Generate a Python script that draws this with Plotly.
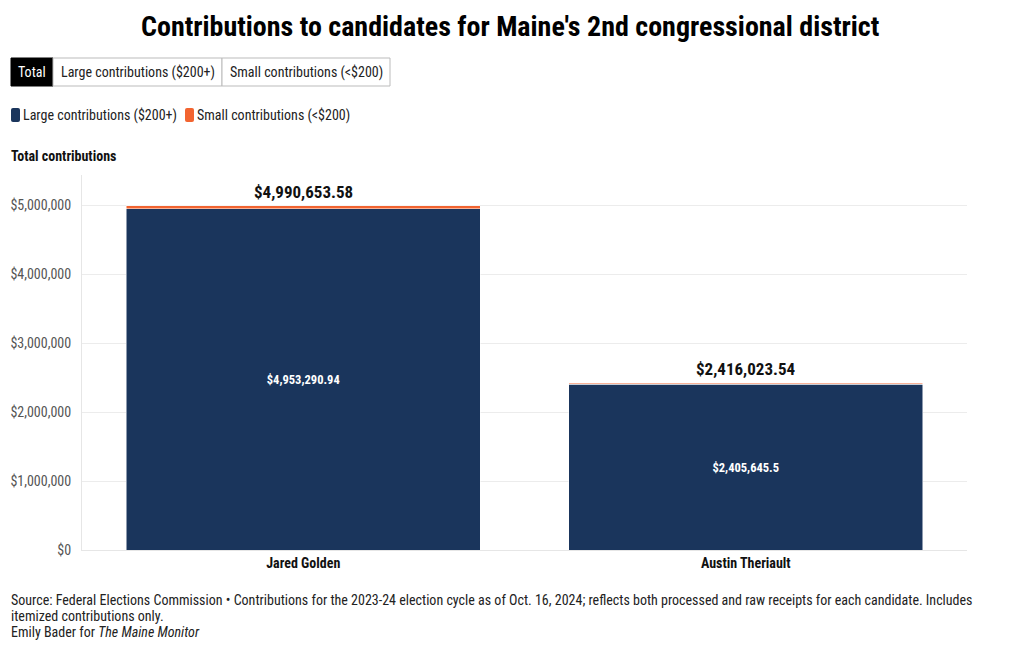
import plotly.graph_objects as go

candidates = ["Jared Golden", "Austin Theriault"]
large_contrib = [4953290.94, 2405645.5]
small_contrib = [37362.64, 10378.04]
series_names = ["Large contributions ($200+)", "Small contributions (<$200)"]
tab_labels = ["Total", "Large contributions ($200+)", "Small contributions (<$200)"]
y_ticks = [0, 1000000, 2000000, 3000000, 4000000, 5000000]

totals = [a + b for a, b in zip(large_contrib, small_contrib)]

NAVY = "#1a355c"
ORANGE = "#f26430"
FONT = "Roboto Condensed, Liberation Sans Narrow, Roboto, sans-serif"


def money(v):
    s = f"{v:,.2f}"
    if "." in s:
        s = s.rstrip("0").rstrip(".")
    return "$" + s


# page places the figure at (8, 8) because of body margin; work in window pixels
OFF = 8
W, H = 1020, 650
plot_left, plot_right, plot_top, plot_bottom = 82, 967, 175, 550
ml = plot_left - OFF
mr = W - (plot_right - OFF)
mt = plot_top - OFF
mb = H - (plot_bottom - OFF)
pw, ph = W - ml - mr, H - mt - mb


def px(xw):
    return (xw - OFF - ml) / pw


def py(yw):
    return (H - mb - (yw - OFF)) / ph


fig = go.Figure()
fig.add_trace(go.Bar(
    x=candidates, y=large_contrib, name=series_names[0],
    marker=dict(color=NAVY, line=dict(color="white", width=0.5)),
    text=[money(v) for v in large_contrib], textposition="inside",
    insidetextanchor="middle",
    textfont=dict(color="white", size=12.5, family=FONT, weight="bold"),
    hovertemplate="%{x}: %{y:$,.2f}<extra>" + series_names[0] + "</extra>",
    showlegend=False,
))
fig.add_trace(go.Bar(
    x=candidates, y=small_contrib, name=series_names[1],
    marker=dict(color=ORANGE, line=dict(color="white", width=0.5)),
    hovertemplate="%{x}: %{y:$,.2f}<extra>" + series_names[1] + "</extra>",
    showlegend=False,
))

for c, t in zip(candidates, totals):
    fig.add_annotation(x=c, y=t, xref="x", yref="y", text=f"<b>{money(t)}</b>",
                       showarrow=False, yanchor="bottom", yshift=2,
                       font=dict(size=17, color="#111", family=FONT))

shapes = []
annots = []

tab_edges = [11, 53, 222, 390]
for i, lab in enumerate(tab_labels):
    x0, x1 = tab_edges[i], tab_edges[i + 1]
    active = i == 0
    shapes.append(dict(type="rect", xref="paper", yref="paper",
                       x0=px(x0), x1=px(x1), y0=py(86), y1=py(58),
                       fillcolor="black" if active else "white",
                       line=dict(color="black" if active else "#bbb", width=1)))
    annots.append(dict(xref="paper", yref="paper", x=px((x0 + x1) / 2), y=py(72),
                       text=lab, showarrow=False, xanchor="center", yanchor="middle",
                       font=dict(size=14, color="white" if active else "#222", family=FONT)))

# custom legend
legend_x = [11, 185]
legend_colors = [NAVY, ORANGE]
for lx, name, col in zip(legend_x, series_names, legend_colors):
    x0, x1, y0, y1 = px(lx), px(lx + 9), py(122), py(108)
    r = 2
    rx = r / pw
    ry = r / ph
    path = (f"M {x0+rx},{y0} L {x1-rx},{y0} Q {x1},{y0} {x1},{y0+ry} "
            f"L {x1},{y1-ry} Q {x1},{y1} {x1-rx},{y1} L {x0+rx},{y1} "
            f"Q {x0},{y1} {x0},{y1-ry} L {x0},{y0+ry} Q {x0},{y0} {x0+rx},{y0} Z")
    shapes.append(dict(type="path", xref="paper", yref="paper", path=path,
                       fillcolor=col, line=dict(width=0)))
    annots.append(dict(xref="paper", yref="paper", x=px(lx + 10), y=py(115),
                       text=name, showarrow=False, xanchor="left", yanchor="middle",
                       font=dict(size=14, color="#222", family=FONT)))

annots.append(dict(xref="paper", yref="paper", x=px(W / 2), y=py(27),
                   text="<b>Contributions to candidates for Maine's 2nd congressional district</b>",
                   showarrow=False, xanchor="center", yanchor="middle",
                   font=dict(size=28, color="black", family=FONT)))
annots.append(dict(xref="paper", yref="paper", x=px(9), y=py(156),
                   text="<b>Total contributions</b>", showarrow=False,
                   xanchor="left", yanchor="middle",
                   font=dict(size=14, color="#111", family=FONT)))
footer_lines = [
    "Source: Federal Elections Commission • Contributions for the 2023-24 election cycle as of Oct. 16, 2024; reflects both processed and raw receipts for each candidate. Includes",
    "itemized contributions only.",
    "Emily Bader for <i>The Maine Monitor</i>",
]
for i, line in enumerate(footer_lines):
    annots.append(dict(xref="paper", yref="paper", x=px(9), y=py(600 + 16 * i),
                       text=line, showarrow=False, xanchor="left", yanchor="middle",
                       align="left", font=dict(size=14, color="#222", family=FONT)))

for a in annots:
    fig.add_annotation(**a)

fig.update_layout(
    width=W, height=H,
    margin=dict(l=ml, r=mr, t=mt, b=mb, autoexpand=False),
    barmode="stack", bargap=0.2,
    plot_bgcolor="white", paper_bgcolor="white",
    font=dict(family=FONT, color="#444"),
    shapes=shapes,
    showlegend=False,
    xaxis=dict(showgrid=False, automargin=False,
               tickfont=dict(size=14, color="#111", family=FONT, weight="bold"),
               showline=True, linecolor="#e6e6e6", ticks=""),
    yaxis=dict(range=[0, 5.44e6], tickvals=y_ticks, automargin=False,
               ticktext=[money(v) for v in y_ticks],
               gridcolor="#ececec", showline=True, linecolor="#e6e6e6",
               zeroline=False, tickfont=dict(size=14, color="#555", family=FONT),
               ticks="", ticklabelstandoff=7),
)

fig.write_html("out.html")
